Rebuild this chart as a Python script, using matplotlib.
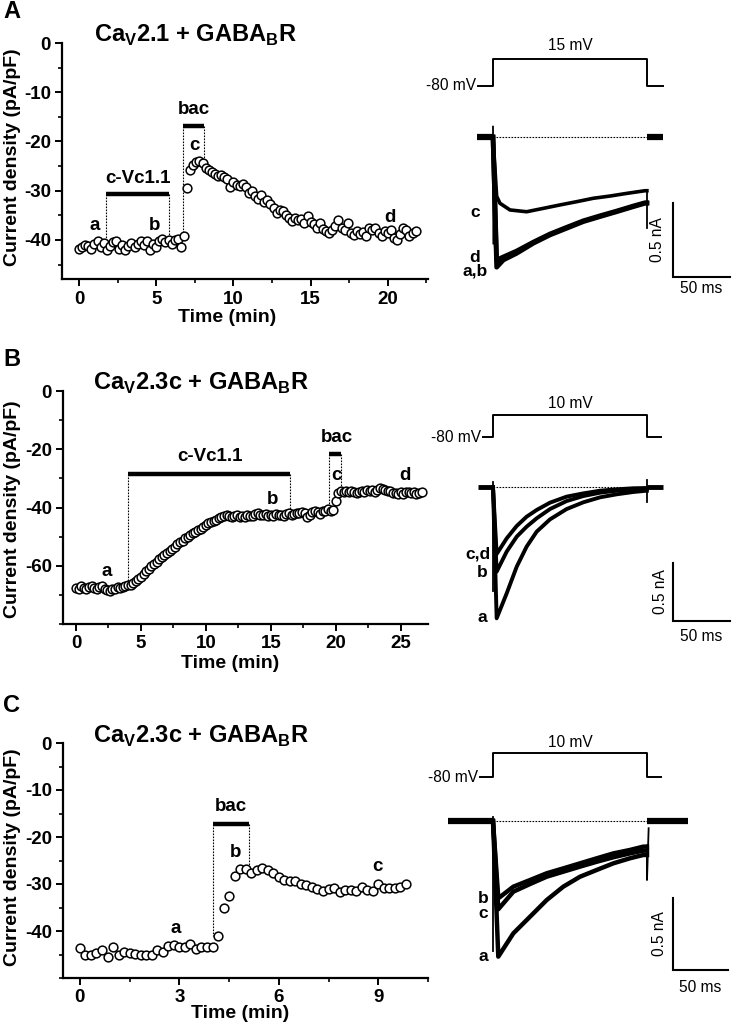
import numpy as np
import matplotlib
matplotlib.use('Agg')
import matplotlib.pyplot as plt
from matplotlib.ticker import MultipleLocator, FixedLocator

plt.rcParams['font.family'] = ['Liberation Sans', 'DejaVu Sans']
plt.rcParams['axes.unicode_minus'] = False
plt.rcParams['mathtext.fontset'] = 'custom'
plt.rcParams['mathtext.bf'] = 'Liberation Sans:bold'
plt.rcParams['mathtext.rm'] = 'Liberation Sans'

# ------------------------------------------------------------------ data
# Time courses (current density, pA/pF), sampled at regular intervals (min)
A_dt = 0.2
A_density = [
    -41.8, -41.5, -41.0, -41.3, -41.8, -40.8, -40.2, -41.5, -40.6, -42.0,
    -41.2, -40.5, -40.2, -41.8, -41.0, -42.0, -41.2, -40.6, -41.5, -40.8,
    -40.2, -41.0, -40.3, -42.0, -40.8, -41.5, -40.2, -39.8, -40.5, -39.9,
    -40.8, -40.0, -39.7, -41.5, -39.2, -29.5, -25.8, -24.8, -24.2, -24.0,
    -24.3, -25.3, -25.8, -26.2, -26.5, -27.0, -26.8, -27.3, -27.6, -29.3,
    -28.2, -28.8, -29.0, -28.7, -29.2, -30.5, -30.0, -31.0, -31.6, -30.8,
    -32.2, -31.8, -32.6, -33.5, -34.6, -34.0, -34.2, -35.0, -35.6, -36.2,
    -35.6, -36.0, -35.8, -36.5, -35.2, -36.3, -36.8, -37.5, -36.6, -37.8,
    -38.2, -38.6, -37.9, -37.2, -36.0, -37.5, -38.0, -36.5, -38.6, -39.0,
    -38.2, -38.8, -38.4, -39.2, -37.6, -38.0, -37.5, -38.5, -39.2, -38.2,
    -38.6, -38.0, -39.6, -40.0, -38.8, -37.5, -38.0, -39.2, -38.5, -38.2,
]
B_dt = 0.2
B_density = [
    -67.5, -67.8, -66.8, -67.5, -68.0, -67.2, -66.9, -67.6, -67.9, -67.3,
    -67.0, -67.8, -68.3, -68.6, -68.0, -67.9, -67.3, -67.6, -67.2, -66.9,
    -66.6, -66.5, -66.0, -65.3, -64.5, -63.8, -62.8, -61.9, -61.0, -60.0,
    -59.2, -58.5, -57.6, -56.8, -56.4, -55.6, -54.9, -54.2, -53.5, -52.6,
    -51.9, -51.4, -50.6, -50.2, -49.4, -48.8, -48.4, -47.7, -47.2, -46.5,
    -46.0, -45.4, -45.0, -44.6, -44.1, -43.6, -43.3, -43.0, -42.6, -42.8,
    -43.2, -43.0, -42.7, -43.1, -42.9, -43.2, -42.6, -43.0, -42.8, -42.2,
    -42.0, -42.4, -42.6, -42.2, -42.8, -42.5, -42.9, -42.3, -42.7, -42.4,
    -42.8, -42.2, -42.0, -42.6, -42.3, -42.0, -41.7, -41.5, -42.0, -43.2,
    -42.5, -41.6, -41.2, -41.5, -42.2, -41.0, -41.2, -40.6, -41.3, -40.8,
    -37.9, -35.0, -34.3, -34.6, -34.2, -34.8, -34.4, -34.6, -35.0, -34.5,
    -34.2, -34.8, -34.0, -34.4, -34.1, -34.6, -33.8, -33.4, -33.6, -34.0,
    -34.4, -34.2, -34.9, -35.0, -35.5, -34.8, -35.2, -34.7, -34.6, -35.0,
    -34.8, -35.2, -34.9, -34.8,
]
C_dt = 1.0 / 6.0
C_density = [
    -43.6, -45.0, -45.0, -44.7, -44.0, -45.5, -43.4, -45.2, -44.5, -44.7,
    -44.8, -45.2, -45.2, -45.0, -44.0, -44.5, -43.2, -43.0, -43.4, -43.4,
    -42.8, -43.8, -43.4, -43.4, -43.4, -41.1, -35.1, -32.6, -28.4, -26.9,
    -26.9, -27.6, -27.1, -26.7, -27.1, -27.6, -28.5, -29.1, -29.4, -29.4,
    -29.9, -30.3, -30.6, -31.1, -31.5, -31.0, -30.8, -31.7, -31.3, -31.2,
    -31.5, -30.6, -31.3, -31.5, -29.9, -30.8, -30.9, -30.8, -30.6, -30.1,
]

# axis ticks
A_yticks = [0, -10, -20, -30, -40]
A_xticks = [0, 5, 10, 15, 20]
B_yticks = [0, -20, -40, -60]
B_xticks = [0, 5, 10, 15, 20, 25]
C_yticks = [0, -10, -20, -30, -40]
C_xticks = [0, 3, 6, 9]

# drug application periods (min) and bar levels (pA/pF)
A_cvc = (1.75, 5.8, -30.7)
A_bac = (6.72, 8.1, -16.8)
B_cvc = (4.03, 16.46, -28.5)
B_bac = (19.5, 20.4, -21.6)
C_bac = (4.02, 5.1, -17.2)

# Current traces (time in ms after step onset, current in nA)
A_step_ms = 135
A_c_t = [3.2, 6.1, 14.9, 29.5, 44.2, 58.8, 73.4, 88.0, 102.6, 117.3, 133.3]
A_c_i = [-0.40, -0.448, -0.493, -0.505, -0.482, -0.459, -0.437, -0.414, -0.399, -0.381, -0.363]
A_ab_t = [3.2, 9.1, 20.8, 35.4, 50.0, 64.6, 79.2, 93.9, 108.5, 123.1, 133.3]
A_ab_i = [-0.880, -0.831, -0.786, -0.718, -0.662, -0.617, -0.572, -0.538, -0.505, -0.471, -0.448]
A_d_i = [-0.831, -0.810, -0.770, -0.710, -0.655, -0.610, -0.566, -0.532, -0.500, -0.466, -0.444]

B_step_ms = 135
B_t = [3.2, 12.0, 20.8, 29.5, 38.3, 50.0, 64.6, 79.2, 93.9, 108.5, 123.1, 134.8]
B_a_i = [-1.132, -0.917, -0.687, -0.514, -0.385, -0.279, -0.190, -0.132, -0.089, -0.063, -0.043, -0.032]
B_b_i = [-0.730, -0.557, -0.428, -0.342, -0.270, -0.190, -0.121, -0.078, -0.049, -0.032, -0.020, -0.014]
B_cd_i = [-0.578, -0.443, -0.336, -0.256, -0.198, -0.135, -0.083, -0.055, -0.032, -0.020, -0.011, -0.009]

C_step_ms = 140
C_t = [4.8, 18.5, 33.6, 48.8, 63.9, 79.1, 94.3, 109.4, 124.5, 136.6]
C_a_i = [-0.942, -0.780, -0.665, -0.549, -0.456, -0.387, -0.340, -0.294, -0.259, -0.236]
C_b_i = [-0.537, -0.456, -0.410, -0.363, -0.329, -0.294, -0.259, -0.225, -0.201, -0.178]
C_c_i = [-0.613, -0.491, -0.438, -0.387, -0.352, -0.317, -0.283, -0.252, -0.225, -0.206]

# ------------------------------------------------------------------ figure
W, H = 733, 1028
fig = plt.figure(figsize=(W / 100, H / 100), dpi=100)


def ax_px(l, t, r, b):
    return fig.add_axes([l / W, 1 - b / H, (r - l) / W, (b - t) / H])


def mapped_ax(l, t, r, b, x_px0, x_ppu, y_px0, y_ppu, y0val=0.0):
    ax = ax_px(l, t, r, b)
    ax.set_xlim((l - x_px0) / x_ppu, (r - x_px0) / x_ppu)
    ax.set_ylim(y0val - (b - y_px0) / y_ppu, y0val - (t - y_px0) / y_ppu)
    ax.axis('off')
    return ax


BOLD = dict(fontweight='bold')
LBL = 13.5
TICK = 13.5
AXLBL = 14
SMALL = 11.2


def time_panel(rect, dt, dens, xlim, ylim, xticks, xmin, yticks, ymin, xlab_x, xlab_y, ylab_x, ylab_y):
    ax = ax_px(*rect)
    t = np.arange(len(dens)) * dt
    ax.plot(t, dens, 'o', ms=6.3, mfc='white', mec='black', mew=1.1, clip_on=False, zorder=3)
    ax.set_xlim(*xlim)
    ax.set_ylim(*ylim)
    for s in ['top', 'right']:
        ax.spines[s].set_visible(False)
    for s in ['left', 'bottom']:
        ax.spines[s].set_linewidth(1.6)
    ax.xaxis.set_major_locator(FixedLocator(xticks))
    ax.xaxis.set_minor_locator(MultipleLocator(xmin))
    ax.yaxis.set_major_locator(FixedLocator(yticks))
    ax.yaxis.set_minor_locator(MultipleLocator(ymin))
    ax.tick_params(which='major', length=5, width=1.4, labelsize=TICK, pad=3)
    ax.tick_params(which='minor', length=3, width=1.2)
    for lab in ax.get_xticklabels() + ax.get_yticklabels():
        lab.set_fontweight('bold')
    ax.set_ylabel('Current density (pA/pF)', fontsize=AXLBL, **BOLD)
    ax.set_xlabel('Time (min)', fontsize=AXLBL, **BOLD)
    ax.yaxis.set_label_coords(ylab_x, ylab_y)
    ax.xaxis.set_label_coords(xlab_x, xlab_y)
    return ax


def app_bar(ax, bar, y_left, y_right):
    t0, t1, yb = bar
    ax.plot([t0, t1], [yb, yb], color='k', lw=3.2, solid_capstyle='butt', zorder=4)
    ax.plot([t0, t0], [yb, y_left], color='k', lw=0.8, ls=(0, (1.5, 1.2)), zorder=2)
    ax.plot([t1, t1], [yb, y_right], color='k', lw=0.8, ls=(0, (1.5, 1.2)), zorder=2)


def lbl(ax, x, y, s, size=LBL):
    ax.text(x, y, s, ha='center', va='center', fontsize=size, **BOLD, zorder=5)


# ---------------- Panel A left
axA = time_panel((62, 43, 428, 279.4), A_dt, A_density, (-1.1, 22.6), (-48, 0), A_xticks, 2.5, A_yticks, 5,
                 0.45, -0.125, -0.112, 0.518)
app_bar(axA, A_cvc, -39.5, -39.8)
app_bar(axA, A_bac, -39.0, -24.5)
lbl(axA, 3.8, -27.6, 'c-Vc1.1')
lbl(axA, 7.45, -13.6, 'bac')
lbl(axA, 1.04, -37.0, 'a')
lbl(axA, 4.88, -37.0, 'b')
lbl(axA, 7.45, -20.8, 'c')
lbl(axA, 20.15, -35.4, 'd')

# ---------------- Panel B left
axB = time_panel((63, 391, 428, 624.2), B_dt, B_density, (-1.0, 27.1), (-80, 0), B_xticks, 2.5, B_yticks, 10,
                 0.457, -0.13, -0.115, 0.494)
app_bar(axB, B_cvc, -66.5, -42.0)
app_bar(axB, B_bac, -40.5, -34.5)
lbl(axB, 10.3, -22.5, 'c-Vc1.1')
lbl(axB, 20.05, -15.8, 'bac')
lbl(axB, 2.36, -62.0, 'a')
lbl(axB, 15.1, -37.2, 'b')
lbl(axB, 20.05, -29.0, 'c')
lbl(axB, 25.3, -29.0, 'd')

# ---------------- Panel C left
axC = time_panel((63, 743, 428, 978), C_dt, C_density, (-0.51, 10.5), (-50, 0), C_xticks, 1.5, C_yticks, 5,
                 0.485, -0.115, -0.115, 0.515)
app_bar(axC, C_bac, -41.0, -27.0)
lbl(axC, 4.55, -13.6, 'bac')
lbl(axC, 2.88, -39.4, 'a')
lbl(axC, 4.7, -23.2, 'b')
lbl(axC, 8.97, -26.3, 'c')

# ---------------- titles and panel letters
title_kw = dict(fontsize=17, ha='center', va='baseline', **BOLD)
fig.text(195 / W, 1 - 42 / H, r'Ca$_\mathbf{V}$2.1 + GABA$_\mathbf{B}$R', **title_kw)
fig.text(201 / W, 1 - 390 / H, r'Ca$_\mathbf{V}$2.3c + GABA$_\mathbf{B}$R', **title_kw)
fig.text(201 / W, 1 - 743 / H, r'Ca$_\mathbf{V}$2.3c + GABA$_\mathbf{B}$R', **title_kw)
for letter, yy in [('A', 11), ('B', 359), ('C', 706)]:
    fig.text(12 / W, 1 - yy / H, letter, fontsize=17, ha='center', va='center', **BOLD)


# ---------------- right: traces
def protocol(l, t, r, b, x_px0, x_ppu, y_px0, y_ppu, t_left, t_step, t_right, v_hold, v_step, step_label, lbl_v):
    ax = mapped_ax(l, t, r, b, x_px0, x_ppu, y_px0, y_ppu, y0val=v_hold)
    ax.plot([t_left, 0, 0, t_step, t_step, t_right], [v_hold, v_hold, v_step, v_step, v_hold, v_hold],
            color='k', lw=1.4)
    ax.text(t_left - 1.5, v_hold, '%d mV' % v_hold, ha='right', va='center', fontsize=SMALL)
    ax.text(t_step / 2, lbl_v, step_label, ha='center', va='center', fontsize=SMALL)
    return ax


def scalebar(ax, t0, i0, tx, iy, ms_y):
    ax.plot([t0, t0, t0 + 50], [i0 + 0.5, i0, i0], color='k', lw=1.5, solid_joinstyle='miter')
    ax.text(tx, iy, '0.5 nA', rotation=90, ha='center', va='center', fontsize=SMALL)
    ax.text(t0 + 25, ms_y, '50 ms', ha='center', va='center', fontsize=SMALL)


def trace(ax, t_pts, i_pts, t_step, lw):
    ax.plot([0] + list(t_pts) + [t_step], [0] + list(i_pts) + [i_pts[-1]], color='k', lw=lw,
            solid_joinstyle='round', zorder=3)


TL = dict(ha='center', va='center', fontsize=12.5, **BOLD)

# Panel A traces
protocol(400, 35, 733, 100, 493, 1.14, 86, 27 / 95, -13, A_step_ms, 149, -80, 15, '15 mV', 61)
trA = mapped_ax(400, 110, 733, 300, 493, 1.14, 137, 148)
trA.plot([-14, 0], [0, 0], color='k', lw=4.5, solid_capstyle='butt')
trA.plot([A_step_ms, 149], [0, 0], color='k', lw=4.5, solid_capstyle='butt')
trA.plot([0, A_step_ms], [0, 0], color='k', lw=0.8, ls=(0, (1.5, 1.2)), zorder=1)
trA.plot([0, 0.3], [0.07, -0.72], color='k', lw=1.3)
trace(trA, A_c_t, A_c_i, A_step_ms, 2.6)
trace(trA, A_ab_t, A_d_i, A_step_ms, 3.4)
trace(trA, A_ab_t, A_ab_i, A_step_ms, 3.4)
trA.plot([A_step_ms, A_step_ms], [-0.36, -0.615], color='k', lw=1.3)
scalebar(trA, 157.9, -0.946, 144.7, -0.696, -1.027)
trA.text(-15.8, -0.507, 'c', **TL)
trA.text(-15.8, -0.815, 'd', **TL)
trA.text(-15.8, -0.905, 'a,b', **TL)

# Panel B traces
protocol(400, 395, 733, 450, 493, 1.14, 437, 22 / 90, -8.8, B_step_ms, 147, -80, 10, '10 mV', 59)
trB = mapped_ax(400, 455, 733, 650, 493, 1.14, 487, 116)
trB.plot([-13, 0], [0, 0], color='k', lw=3.5, solid_capstyle='butt')
trB.plot([B_step_ms, 149], [0, 0], color='k', lw=3.5, solid_capstyle='butt')
trB.plot([0, B_step_ms], [0, 0], color='k', lw=0.8, ls=(0, (1.5, 1.2)), zorder=1)
trB.plot([0, 0], [0.04, -0.9], color='k', lw=1.3)
trace(trB, B_t, B_a_i, B_step_ms, 2.8)
trace(trB, B_t, B_b_i, B_step_ms, 2.8)
trace(trB, B_t, B_cd_i, B_step_ms, 2.8)
trB.plot([B_step_ms, B_step_ms], [0.06, -0.127], color='k', lw=1.3)
scalebar(trB, 157.9, -1.155, 146.5, -0.905, -1.293)
trB.text(-13.2, -0.578, 'c,d', **TL)
trB.text(-9.6, -0.733, 'b', **TL)
trB.text(-9.6, -1.129, 'a', **TL)

# Panel C traces
protocol(400, 730, 733, 790, 493, 1.1, 777, 24 / 90, -11.8, C_step_ms, 152.7, -80, 10, '10 mV', 51)
trC = mapped_ax(400, 790, 733, 1000, 493, 1.1, 821, 144)
trC.plot([-40.9, 0], [0, 0], color='k', lw=4.5, solid_capstyle='butt')
trC.plot([C_step_ms, 177], [0, 0], color='k', lw=4.5, solid_capstyle='butt')
trC.plot([0, C_step_ms], [0, 0], color='k', lw=0.8, ls=(0, (1.5, 1.2)), zorder=1)
trC.plot([0, 0], [0.03, -0.9], color='k', lw=1.3)
trace(trC, C_t, C_a_i, C_step_ms, 3.2)
trace(trC, C_t, C_c_i, C_step_ms, 3.2)
trace(trC, C_t, C_b_i, C_step_ms, 3.2)
trC.plot([C_step_ms, C_step_ms, C_step_ms + 1.5], [-0.17, -0.41, -0.05], color='k', lw=1.3)
scalebar(trC, 163.6, -1.035, 151.8, -0.785, -1.153)
trC.text(-9.1, -0.535, 'b', **TL)
trC.text(-9.1, -0.639, 'c', **TL)
trC.text(-9.1, -0.944, 'a', **TL)

fig.savefig('out.png', dpi=100)
